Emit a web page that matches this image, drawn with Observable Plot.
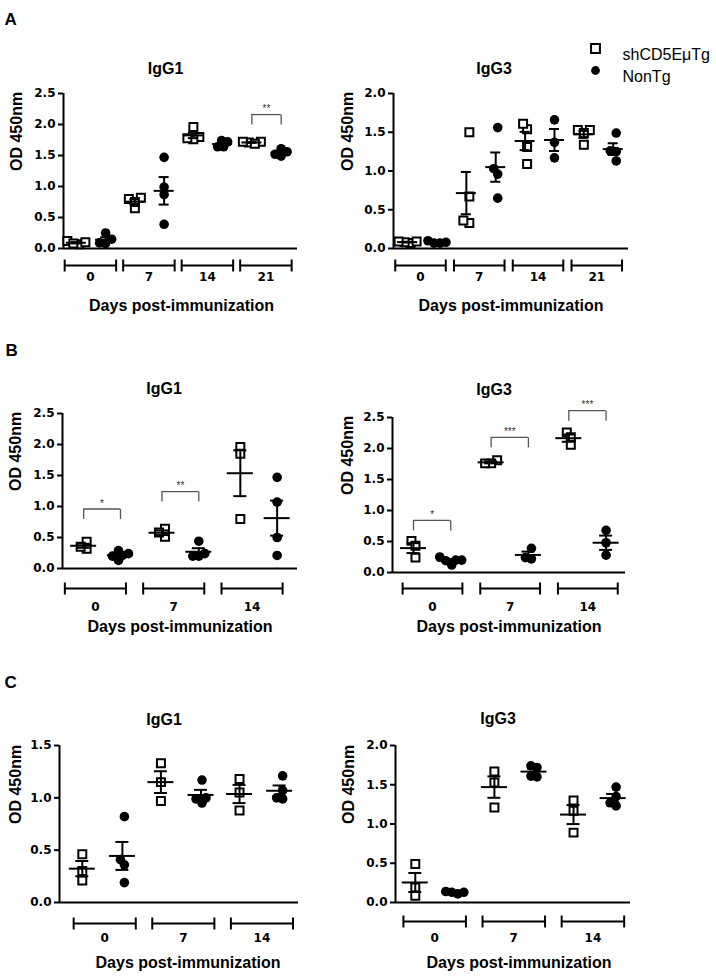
<!DOCTYPE html>
<html><head><meta charset="utf-8">
<script src="https://cdn.jsdelivr.net/npm/d3@7"></script>
<script src="https://cdn.jsdelivr.net/npm/@observablehq/plot@0.6"></script>
<style>
html,body{margin:0;padding:0;background:#fff;}
#root{position:relative;width:716px;height:979px;overflow:hidden;background:#fff;}
#root svg{position:absolute;overflow:visible;}
</style></head><body><div id="root"></div>
<script>
// ---------- data ----------
const seriesNames = ["shCD5EμTg", "NonTg"];
const groupsA = ["0", "7", "14", "21"];
const groupsBC = ["0", "7", "14"];
const titles = ["IgG1", "IgG3"];
const yLabel = "OD 450nm";
const xLabel = "Days post-immunization";

const ticks25 = [0, 0.5, 1.0, 1.5, 2.0, 2.5];
const ticks20 = [0, 0.5, 1.0, 1.5, 2.0];
const ticks15 = [0, 0.5, 1.0, 1.5];

// Panel A
const A_IgG1_sh  = [[0.07, 0.10, 0.12, 0.08], [0.80, 0.82, 0.65, 0.75], [1.96, 1.80, 1.76, 1.78], [1.71, 1.72, 1.69, 1.72]];
const A_IgG1_non = [[0.15, 0.25, 0.08, 0.09], [1.47, 0.99, 0.87, 0.39], [1.72, 1.74, 1.64, 1.64], [1.56, 1.61, 1.49, 1.52]];
const A_IgG3_sh  = [[0.07, 0.09, 0.08, 0.09], [1.50, 0.67, 0.33, 0.36], [1.54, 1.61, 1.31, 1.09], [1.53, 1.53, 1.34, 1.49]];
const A_IgG3_non = [[0.07, 0.08, 0.10, 0.07], [1.56, 1.03, 0.96, 0.65], [1.66, 1.37, 1.17], [1.49, 1.13, 1.25, 1.26]];
// Panel B
const B_IgG1_sh  = [[0.43, 0.32, 0.35], [0.64, 0.51, 0.58], [1.96, 1.85, 0.80]];
const B_IgG1_non = [[0.29, 0.21, 0.13, 0.24, 0.20], [0.44, 0.24, 0.20, 0.20], [1.47, 1.07, 0.50, 0.21]];
const B_IgG3_sh  = [[0.51, 0.43, 0.24], [1.81, 1.76, 1.76], [2.26, 2.18, 2.06]];
const B_IgG3_non = [[0.19, 0.25, 0.12, 0.20, 0.20], [0.39, 0.22, 0.24], [0.68, 0.48, 0.28]];
// Panel C
const C_IgG1_sh  = [[0.46, 0.30, 0.21], [1.33, 1.15, 0.97], [1.18, 1.05, 0.88]];
const C_IgG1_non = [[0.82, 0.41, 0.36, 0.19], [1.17, 1.00, 0.95, 0.99], [1.21, 1.07, 1.00, 0.99]];
const C_IgG3_sh  = [[0.49, 0.19, 0.085], [1.67, 1.53, 1.21], [1.30, 1.17, 0.89]];
const C_IgG3_non = [[0.13, 0.11, 0.13, 0.14], [1.72, 1.74, 1.60, 1.61], [1.47, 1.35, 1.23, 1.27]];

// significance annotations (group index, bracket level, label)
const sigA_IgG1 = [{g: 3, y: 2.16, label: "**"}];
const sigB_IgG1 = [{g: 0, y: 0.96, label: "*"}, {g: 1, y: 1.24, label: "**"}];
const sigB_IgG3 = [{g: 0, y: 0.84, label: "*"}, {g: 1, y: 2.18, label: "***"}, {g: 2, y: 2.61, label: "***"}];

// ---------- helpers ----------
const vTick = {draw(ctx, size) { const h = Math.sqrt(size / Math.PI); ctx.moveTo(0, -h); ctx.lineTo(0, h); }};
const vLeg = {draw(ctx, size) { const h = Math.sqrt(size / Math.PI); ctx.moveTo(0, 0); ctx.lineTo(0, h); }};
const TF = "Liberation Sans, Arial, sans-serif";
const NF = "DejaVu Sans, sans-serif";

// simple beeswarm: horizontal pixel offsets so markers overlap only partly
function swarm(vals, ky, dist, step) {
  const order = vals.map((v, i) => i).sort((a, b) => vals[a] - vals[b]);
  const placed = [];
  const off = new Array(vals.length).fill(0);
  order.forEach(i => {
    const py = vals[i] * ky;
    for (let k = 0; k < 60; k++) {
      const dx = (k % 2 ? -1 : 1) * Math.ceil(k / 2) * step;
      if (placed.every(p => Math.hypot(p.dx - dx, p.py - py) >= dist)) { placed.push({dx, py}); off[i] = dx; break; }
    }
  });
  const mid = (d3.min(off) + d3.max(off)) / 2;
  return off.map(o => o - mid);
}

function panel(c) {
  const fw = c.width - c.ml - c.mr, fh = c.height - c.mt - c.mb;
  const kx = fw / c.xMax, ky = fh / c.yMax;
  const pts = [], stats = [];
  c.groups.forEach((lab, g) => {
    [c.sh[g], c.non[g]].forEach((vals, s) => {
      const cx = g + c.off[s];
      const offs = swarm(vals, ky, 6, 2);
      vals.forEach((v, i) => pts.push({x: cx + offs[i] / kx, y: v, s}));
      const m = d3.mean(vals), se = d3.deviation(vals) / Math.sqrt(vals.length);
      stats.push({x: cx, mean: m, lo: m - se, hi: m + se});
    });
  });
  const mw = c.mwPx / kx, cw = c.cwPx / kx;
  const groupIdx = c.groups.map((lab, g) => ({g, lab}));
  const caps = groupIdx.flatMap(d => [d.g + c.br[0], d.g + c.br[1]]);
  const sig = c.sig || [];
  const sigLegs = sig.flatMap(d => [{x: d.g + c.off[0], y: d.y}, {x: d.g + c.off[1], y: d.y}]);
  const marks = [
    // axes
    Plot.ruleY([0], {y: d => d, strokeWidth: 2}),
    Plot.ruleX([0], {x: d => d, y1: () => 0, y2: () => c.yMax, strokeWidth: 2}),
    Plot.axisY({ticks: c.ticks, tickFormat: d3.format(".1f"), tickSize: 5, tickPadding: 3, strokeWidth: 2,
      fontSize: 12, fontWeight: "bold", fontFamily: NF, label: null}),
    // points
    Plot.dot(pts.filter(d => d.s === 0), {x: "x", y: "y", symbol: "square", r: 4.5, fill: "white", stroke: "black", strokeWidth: 2}),
    Plot.dot(pts.filter(d => d.s === 1), {x: "x", y: "y", symbol: "circle", r: 4.8, fill: "black", stroke: "none"}),
    // mean +- SEM
    Plot.ruleY(stats, {y: "mean", x1: d => d.x - mw, x2: d => d.x + mw, strokeWidth: 2}),
    Plot.ruleX(stats, {x: "x", y1: "lo", y2: "hi", strokeWidth: 2}),
    Plot.ruleY(stats, {y: "hi", x1: d => d.x - cw, x2: d => d.x + cw, strokeWidth: 2}),
    Plot.ruleY(stats, {y: "lo", x1: d => d.x - cw, x2: d => d.x + cw, strokeWidth: 2}),
    // significance brackets
    Plot.ruleY(sig, {y: "y", x1: d => d.g + c.off[0], x2: d => d.g + c.off[1], stroke: "#555", strokeWidth: 1.3}),
    Plot.dot(sigLegs, {x: "x", y: "y", symbol: vLeg, r: 10, fill: "none", stroke: "#555", strokeWidth: 1.3}),
    Plot.text(sig, {x: d => d.g + (c.off[0] + c.off[1]) / 2, y: "y", text: "label", dy: -5.5, fontSize: 10, fontFamily: TF, fill: "#333"}),
    // group brackets under x axis
    Plot.ruleY(groupIdx, {y: () => 0, x1: d => d.g + c.br[0], x2: d => d.g + c.br[1], dy: c.bDy, strokeWidth: 2}),
    Plot.dot(caps, {x: d => d, y: () => 0, dy: c.bDy, symbol: vTick, r: 6, fill: "none", stroke: "black", strokeWidth: 2}),
    Plot.text(groupIdx, {x: d => d.g + (c.br[0] + c.br[1]) / 2, y: () => 0, dy: c.lDy, text: "lab", fontSize: 12, fontWeight: "bold", fontFamily: NF}),
    // titles and labels
    Plot.text([xLabel], {frameAnchor: "bottom", dx: c.xlDx, dy: c.xlDy, fontSize: 16, fontWeight: "bold", fontFamily: TF}),
    Plot.text([yLabel], {frameAnchor: "left", dx: c.ylDx, rotate: -90, fontSize: 16, fontWeight: "bold", fontFamily: TF}),
    Plot.text([c.title], {frameAnchor: "top", dx: c.tDx, dy: c.tDy, fontSize: 16, fontWeight: "bold", fontFamily: TF})
  ];
  if (c.letter) marks.push(Plot.text([c.letter], {frameAnchor: "top-left", dx: c.letDx, dy: c.letDy, textAnchor: "start", fontSize: 17, fontWeight: "bold", fontFamily: TF}));
  if (c.legend) {
    marks.push(
      Plot.dot([0], {frameAnchor: "top-right", dx: -33, dy: -45, symbol: "square", r: 5, fill: "white", stroke: "black", strokeWidth: 2}),
      Plot.dot([0], {frameAnchor: "top-right", dx: -33, dy: -23, symbol: "circle", r: 4.4, fill: "black"}),
      Plot.text([seriesNames[0]], {frameAnchor: "top-right", dx: -6, dy: -45, textAnchor: "start", fontSize: 16, fontFamily: TF}),
      Plot.text([seriesNames[1]], {frameAnchor: "top-right", dx: -6, dy: -23, textAnchor: "start", fontSize: 16, fontFamily: TF})
    );
  }
  const svg = Plot.plot({
    width: c.width, height: c.height,
    marginLeft: c.ml, marginRight: c.mr, marginTop: c.mt, marginBottom: c.mb,
    x: {domain: [0, c.xMax], axis: null},
    y: {domain: [0, c.yMax], axis: null},
    style: {color: "black", background: "transparent", fontFamily: NF},
    marks
  });
  svg.style.left = c.left + "px";
  svg.style.top = c.top + "px";
  svg.style.maxWidth = "none";
  document.getElementById("root").appendChild(svg);
}

const L = {left: 0, width: 330}, R = {left: 330, width: 386};
const mA = {mwPx: 10, cwPx: 5}, mBC = {mwPx: 13, cwPx: 6.5};

panel({...L, ...mA, top: 0, height: 330, ml: 63, mr: 33, mt: 93, mb: 82, xMax: 4, yMax: 2.5, ticks: ticks25,
  groups: groupsA, sh: A_IgG1_sh, non: A_IgG1_non, sig: sigA_IgG1, off: [0.22, 0.72], br: [0.02, 0.9],
  bDy: 17, lDy: 29, xlDx: 1, xlDy: 62, ylDx: -47, title: titles[0], tDx: -15, tDy: -31, letter: "A", letDx: -59, letDy: -81});
panel({...R, ...mA, top: 0, height: 330, ml: 63, mr: 88, mt: 93, mb: 82, xMax: 4, yMax: 2.0, ticks: ticks20,
  groups: groupsA, sh: A_IgG3_sh, non: A_IgG3_non, off: [0.24, 0.74], br: [0.03, 0.89],
  bDy: 17, lDy: 29, xlDx: 0, xlDy: 62, ylDx: -46, title: titles[1], tDx: -17, tDy: -31, legend: true});
panel({...L, ...mBC, top: 330, height: 320, ml: 62, mr: 33, mt: 83, mb: 82, xMax: 3, yMax: 2.5, ticks: ticks25,
  groups: groupsBC, sh: B_IgG1_sh, non: B_IgG1_non, sig: sigB_IgG1, off: [0.27, 0.74], br: [0.03, 0.81],
  bDy: 20, lDy: 39, xlDx: 0, xlDy: 63, ylDx: -47, title: titles[0], tDx: -16, tDy: -31, letter: "B", letDx: -57, letDy: -70});
panel({...R, ...mBC, top: 330, height: 320, ml: 62, mr: 91, mt: 87, mb: 78, xMax: 3, yMax: 2.5, ticks: ticks25,
  groups: groupsBC, sh: B_IgG3_sh, non: B_IgG3_non, sig: sigB_IgG3, off: [0.27, 0.75], br: [0.13, 0.9],
  bDy: 16, lDy: 35, xlDx: 0, xlDy: 59, ylDx: -45, title: titles[1], tDx: -15, tDy: -34});
panel({...L, ...mBC, top: 650, height: 329, ml: 59, mr: 32, mt: 95, mb: 77, xMax: 3.04, yMax: 1.5, ticks: ticks15,
  groups: groupsBC, sh: C_IgG1_sh, non: C_IgG1_non, off: [0.29, 0.8], br: [0.18, 0.97],
  bDy: 21, lDy: 36, xlDx: 9, xlDy: 65, ylDx: -44, title: titles[0], tDx: -15, tDy: -32, letter: "C", letDx: -55, letDy: -70});
panel({...R, ...mBC, top: 650, height: 329, ml: 65, mr: 86, mt: 95, mb: 77, xMax: 2.97, yMax: 2.0, ticks: ticks20,
  groups: groupsBC, sh: C_IgG3_sh, non: C_IgG3_non, off: [0.25, 0.75], br: [0.1, 0.89],
  bDy: 19, lDy: 36, xlDx: 6, xlDy: 65, ylDx: -47, title: titles[1], tDx: -15, tDy: -33});
</script>
</body></html>
